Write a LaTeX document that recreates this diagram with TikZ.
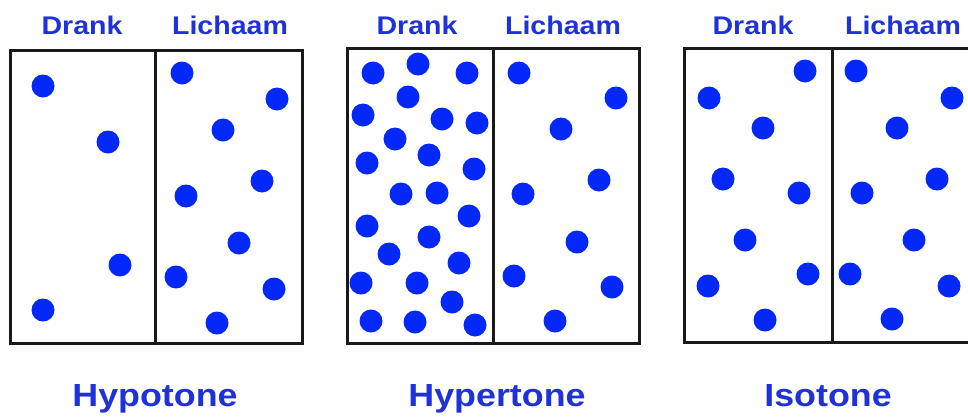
\documentclass[tikz,border=0pt]{standalone}
\usepackage{fontspec}
\newfontfamily\labelfont{Liberation Sans}[FakeStretch=1.12]
\usetikzlibrary{positioning}
\definecolor{dotblue}{RGB}{5,40,250}
\definecolor{textblue}{RGB}{30,50,215}

\begin{document}
\begin{tikzpicture}[x=1pt, y=-1pt]
  \tikzset{
    side/.style={textblue, font=\labelfont\bfseries\fontsize{25.5}{25.5}\selectfont, inner sep=0pt, anchor=base},
    kind/.style={textblue, font=\labelfont\bfseries\fontsize{32}{32}\selectfont, inner sep=0pt, anchor=base},
    wall/.style={line width=3pt, black!90},
    particle/.style={fill=dotblue}
  }
  \useasboundingbox (0,0) rectangle (968,418);
  % hypotone: few particles in the drink
  \draw[wall] (10,50) rectangle (302,343);
  \draw[wall] (155,50) -- (155,343);
  \node[side] (hypo-drank) at (82,34) {Drank};
  \node[side] (hypo-body) at (230,34) {Lichaam};
  \node[kind] (hypo) at (155,406) {Hypotone};
  \foreach \p in {(43,86),(108,142),(120,265),(43,310),
                  (182,73),(277,99),(223,130),(262,181),(186,196),
                  (239,243),(176,277),(274,289),(217,323)}
    \fill[particle] \p circle (11.5pt);
  % hypertone: many particles in the drink
  \draw[wall] (347,48) rectangle (639,343);
  \draw[wall] (493,48) -- (493,343);
  \node[side] (hyper-drank) at (417,34) {Drank};
  \node[side] (hyper-body) at (563,34) {Lichaam};
  \node[kind] (hyper) at (497,406) {Hypertone};
  \foreach \p in {(373,73),(418,64),(467,73),(408,97),(363,115),(442,119),
                  (477,123),(395,139),(367,163),(429,155),(474,169),(401,194),
                  (437,193),(469,216),(367,226),(429,237),(389,254),(459,263),
                  (361,283),(417,283),(452,302),(371,321),(415,322),(475,325),
                  (519,73),(616,98),(561,129),(599,180),(523,194),
                  (577,242),(514,276),(612,287),(555,321)}
    \fill[particle] \p circle (11.5pt);
  % isotone: same on both sides
  \draw[wall] (684,48) rectangle (976,342);
  \draw[wall] (832,48) -- (832,342);
  \node[side] (iso-drank) at (753,34) {Drank};
  \node[side] (iso-body) at (903,34) {Lichaam};
  \node[kind] (iso) at (828,406) {Isotone};
  \foreach \p in {(805,71),(709,98),(763,128),(723,179),(799,193),
                  (745,240),(808,274),(708,286),(765,320),
                  (856,71),(952,98),(897,128),(937,179),(862,193),
                  (914,240),(850,274),(949,286),(892,319)}
    \fill[particle] \p circle (11.5pt);
\end{tikzpicture}
\end{document}
